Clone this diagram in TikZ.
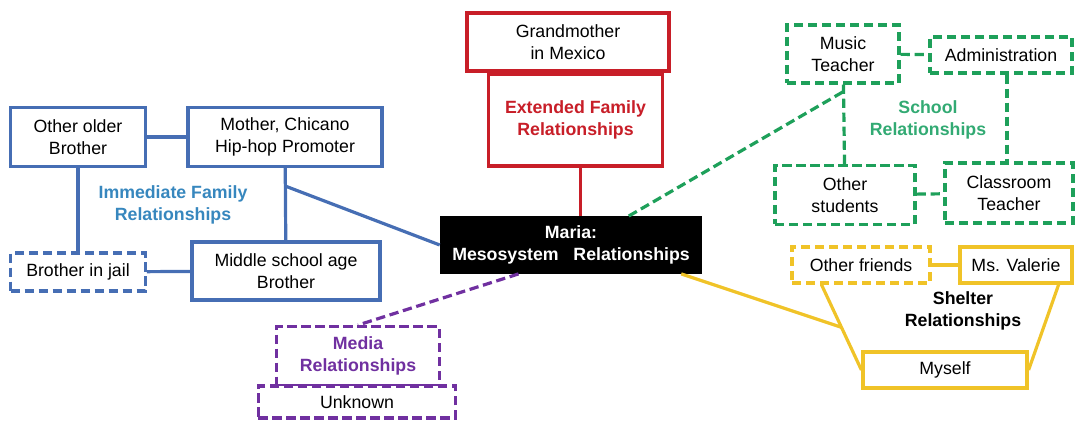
\documentclass[tikz,border=0pt]{standalone}
\usepackage{fontspec}
\setmainfont{Liberation Sans}
\usetikzlibrary{calc}
\definecolor{famblue}{RGB}{70,110,180}
\definecolor{famtext}{RGB}{55,135,190}
\definecolor{extred}{RGB}{200,30,40}
\definecolor{schgreen}{RGB}{30,160,90}
\definecolor{schtext}{RGB}{50,170,115}
\definecolor{medpurple}{RGB}{112,48,160}
\definecolor{shelyellow}{RGB}{240,195,40}

\begin{document}
\begin{tikzpicture}[x=0.75pt,y=-0.75pt,
    every node/.style={font=\fontsize{13.3}{16.5}\selectfont, align=center, inner sep=2pt},
    box/.style={draw=#1, line width=2.4pt, fill=white, text=black},
    dbox/.style={box=#1, dash pattern=on 7pt off 3.5pt},
    link/.style={line width=2.4pt, draw=#1},
    dlink/.style={link=#1, dash pattern=on 7pt off 3.5pt},
    grouplabel/.style={font=\fontsize{13.3}{16.5}\selectfont\bfseries, text=#1}]
    \useasboundingbox (0,0) rectangle (1076,423);
    % Immediate family
    \node[box=famblue, minimum width=101pt, minimum height=44pt] (older) at (78,137) {Other older\\Brother};
    \node[box=famblue, minimum width=145.5pt, minimum height=44pt] (mother) at (285,137) {Mother, Chicano\\Hip-hop Promoter};
    \node[dbox=famblue, minimum width=101pt, minimum height=28.5pt] (jail) at (78,272) {Brother in jail};
    \node[box=famblue, minimum width=141pt, minimum height=43.5pt] (middle) at (286,271) {Middle school age\\Brother};
    \node[grouplabel=famtext] (famlab) at (173,205) {Immediate Family\\Relationships};
    % Centre
    \node[fill=black, text=white, font=\fontsize{13.3}{16.5}\selectfont\bfseries, minimum width=196.5pt, minimum height=43pt] (maria) at (571,245) {Maria:\\Mesosystem\ \ \ Relationships};
    % Extended family
    \node[box=extred, grouplabel=extred, minimum width=131pt, minimum height=69pt] (extended) at (575.5,120) {Extended Family\\Relationships};
    \node[box=extred, minimum width=151.5pt, minimum height=43.5pt] (grandma) at (568,42) {Grandmother\\in Mexico};
    % School
    \node[dbox=schgreen, minimum width=84pt, minimum height=43.5pt] (music) at (843,54) {Music\\Teacher};
    \node[dbox=schgreen, minimum width=106.5pt, minimum height=27pt] (admin) at (1001,55) {Administration};
    \node[dbox=schgreen, minimum width=105pt, minimum height=44pt] (students) at (845,195) {Other\\students};
    \node[dbox=schgreen, minimum width=96pt, minimum height=45pt] (classroom) at (1009,193) {Classroom\\Teacher};
    \node[grouplabel=schtext] (schlab) at (928,120) {School\\Relationships};
    % Shelter
    \node[dbox=shelyellow, minimum width=103.5pt, minimum height=27pt] (friends) at (861,265) {Other friends};
    \node[box=shelyellow, minimum width=84pt, minimum height=27pt] (valerie) at (1016,265) {Ms. Valerie};
    \node[box=shelyellow, minimum width=123pt, minimum height=27pt] (myself) at (945,370) {Myself};
    \node[grouplabel=black] (shellab) at (963,311) {Shelter\\Relationships};
    % Media
    \node[dbox=medpurple, grouplabel=medpurple, minimum width=122pt, minimum height=44pt] (media) at (358,356) {Media\\Relationships};
    \node[dbox=medpurple, minimum width=148pt, minimum height=24pt] (unknown) at (357,402) {Unknown};

    % Links: immediate family
    \draw[link=famblue] (older) -- (mother);
    \draw[link=famblue] (older) -- (jail);
    \draw[link=famblue] (mother) -- (middle);
    \draw[link=famblue] (jail) -- (middle);
    \coordinate (famjoin) at ($(mother.south)!0.25!(middle.north)$);
    \draw[link=famblue] (famjoin) -- (maria.west);
    % Links: extended family
    \draw[link=extred] ($(extended.south)+(5,0)$) -- ($(extended.south |- maria.north)+(5,0)$);
    % Links: school
    \draw[dlink=schgreen] (music) -- (admin);
    \draw[dlink=schgreen] (music) -- (students);
    \draw[dlink=schgreen] ($(admin.south)+(6,0)$) -- ($(admin.south |- classroom.north)+(6,0)$);
    \draw[dlink=schgreen] (students) -- (classroom);
    \coordinate (schjoin) at ($(music.south)!0.09!(students.north)$);
    \draw[dlink=schgreen] ($(maria.north west)!0.72!(maria.north east)$) -- (schjoin);
    % Links: shelter
    \draw[link=shelyellow] (friends) -- (valerie);
    \coordinate (frfoot) at ($(friends.south west)!0.22!(friends.south east)$);
    \draw[link=shelyellow] (frfoot) -- (myself.west);
    \draw[link=shelyellow] ($(valerie.south west)!0.87!(valerie.south east)$) -- (myself.east);
    \coordinate (shjoin) at ($(frfoot)!0.5!(myself.west)$);
    \draw[link=shelyellow] ($(maria.south west)!0.92!(maria.south east)$) -- (shjoin);
    % Links: media
    \draw[dlink=medpurple] ($(maria.south west)!0.3!(maria.south east)$) -- (media.north);
\end{tikzpicture}
\end{document}
